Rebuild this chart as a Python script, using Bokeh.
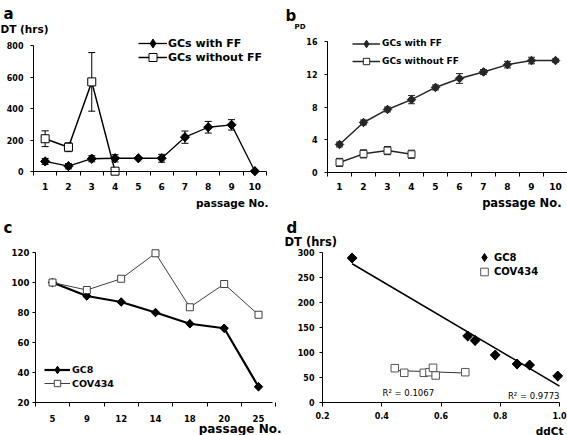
import numpy as np
from bokeh.plotting import figure
from bokeh.models import (ColumnDataSource, Whisker, TeeHead, Legend, LegendItem, Label,
                          FixedTicker, Range1d)
from bokeh.layouts import column, row
from bokeh.embed import file_html
from bokeh.resources import INLINE

FONT = "DejaVu Sans"

# ---------------- data ----------------
# panel a : doubling time (hrs)
passage_a = [1, 2, 3, 4, 5, 6, 7, 8, 9, 10]
dt_with_ff = [64, 34, 81, 84, 84, 84, 218, 281, 296, 2]
dt_with_ff_err = [19, 17, 19, 23, 6, 25, 39, 37, 33, 0]
passage_a_wo = [1, 2, 3, 4]
dt_without_ff = [208, 154, 569, 2]
dt_without_ff_err = [50, 28, 186, 0]
y_ticks_a = [0, 200, 400, 600, 800]

# panel b : population doublings
passage_b = [1, 2, 3, 4, 5, 6, 7, 8, 9, 10]
pd_with_ff = [3.4, 6.1, 7.7, 8.9, 10.4, 11.5, 12.3, 13.2, 13.7, 13.7]
pd_with_ff_err = [0.3, 0.3, 0.3, 0.5, 0.3, 0.6, 0.3, 0.4, 0.4, 0.2]
passage_b_wo = [1, 2, 3, 4]
pd_without_ff = [1.2, 2.25, 2.65, 2.2]
pd_without_ff_err = [0.5, 0.5, 0.5, 0.5]
y_ticks_b = [0, 4, 8, 12, 16]

# panel c : values vs passage number
passage_c = ["5", "9", "12", "14", "18", "20", "25"]
gc8_c = [100, 91, 87, 80, 72.5, 69.5, 30.5]
cov434_c = [100, 95, 102.5, 119.5, 83.5, 99, 78.5]
y_ticks_c = [20, 40, 60, 80, 100, 120]

# panel d : DT vs ddCt
gc8_ddct = [0.30, 0.69, 0.715, 0.783, 0.857, 0.899, 0.994]
gc8_dt = [289, 133, 124, 95, 77, 75, 53]
cov434_ddct = [0.444, 0.476, 0.542, 0.561, 0.573, 0.582, 0.682]
cov434_dt = [68.6, 59.4, 59.4, 60.6, 69.4, 54, 60.6]
x_ticks_d = [0.2, 0.4, 0.6, 0.8, 1.0]
y_ticks_d = [0, 50, 100, 150, 200, 250, 300]
r2_gc8 = "R\u00b2 = 0.9773"
r2_cov434 = "R\u00b2 = 0.1067"


# ---------------- helpers ----------------
def make_panel(w, h, xmap, ymap):
    """Frame fills the whole canvas; xmap/ymap = ((value, px), (value, px)) anchors."""
    (xv1, xp1), (xv2, xp2) = xmap
    kx = (xv2 - xv1) / (xp2 - xp1)
    (yv1, yp1), (yv2, yp2) = ymap
    ky = (yv2 - yv1) / (yp2 - yp1)
    p = figure(width=w, height=h,
               x_range=Range1d(xv1 - xp1 * kx, xv1 + (w - xp1) * kx),
               y_range=Range1d(yv1 + (h - yp1) * ky, yv1 - yp1 * ky),
               output_backend="svg", toolbar_location=None, min_border=0,
               background_fill_color="white", border_fill_color="white")
    p.xgrid.visible = False
    p.ygrid.visible = False
    p.outline_line_color = None
    for ax in (p.xaxis[0], p.yaxis[0]):
        ax.axis_line_color = "black"
        ax.axis_line_width = 1
        ax.major_tick_line_color = "black"
        ax.minor_tick_line_color = "black"
        ax.major_label_text_font = FONT
        ax.major_label_text_font_style = "bold"
        ax.major_label_text_color = "black"
        ax.major_tick_in = 0
        ax.minor_tick_in = 0
    return p


def y_axis(p, ticks, at, bounds, size, tick_out=3, standoff=6):
    ax = p.yaxis[0]
    ax.fixed_location = at
    ax.bounds = bounds
    ax.ticker = FixedTicker(ticks=ticks, minor_ticks=[])
    ax.major_tick_out = tick_out
    ax.minor_tick_out = 0
    ax.major_label_standoff = standoff
    ax.major_label_text_font_size = f"{size}px"


def cat_x_axis(p, ticks, at, bounds, size, overrides=None, standoff=8):
    ax = p.xaxis[0]
    ax.fixed_location = at
    ax.bounds = bounds
    ax.ticker = FixedTicker(ticks=ticks, minor_ticks=[ticks[0] - 0.5] + [t + 0.5 for t in ticks])
    ax.major_tick_out = 0
    ax.minor_tick_out = 4
    ax.major_label_standoff = standoff
    ax.major_label_text_font_size = f"{size}px"
    if overrides:
        ax.major_label_overrides = overrides


def add_text(p, h, text, fx, fy, size, align="left", bold=True):
    """fx, fy: panel pixels from top-left; fy is the text baseline."""
    p.add_layout(Label(x=fx, y=h - fy, x_units="screen", y_units="screen",
                       text=text, text_font=FONT, text_font_size=f"{size}px",
                       text_font_style="bold" if bold else "normal",
                       text_align=align, text_baseline="alphabetic", text_color="black"))


def whiskers(p, xs, ys, errs, color="black", head=7):
    src = ColumnDataSource(dict(x=xs, upper=[y + e for y, e in zip(ys, errs)],
                                lower=[y - e for y, e in zip(ys, errs)]))
    p.add_layout(Whisker(source=src, base="x", upper="upper", lower="lower", dimension="height",
                         line_color=color, line_width=1,
                         upper_head=TeeHead(size=head, line_color=color, line_width=1),
                         lower_head=TeeHead(size=head, line_color=color, line_width=1)))


def legend_entry(p, h, label, renderers, x, y_center, glyph_w, box, size, standoff):
    """One legend row; x = left of the glyph, y_center = row centre (panel px from top)."""
    p.add_layout(Legend(items=[LegendItem(label=label, renderers=renderers)],
                        location=(x, h - (y_center + box / 2)), orientation="vertical",
                        glyph_width=glyph_w, glyph_height=box, label_height=box,
                        label_width=10, label_standoff=standoff, spacing=0,
                        padding=0, margin=0, border_line_alpha=0, background_fill_alpha=0,
                        label_text_font=FONT, label_text_font_size=f"{size}px",
                        label_text_font_style="bold", label_text_color="black",
                        label_text_baseline="middle"))


def diamonds(p, xs, ys, size, color):
    """Diamond markers: a narrow 'diamond' (used as legend sample) under a rotated square."""
    leg = p.scatter(xs, ys, marker="diamond", size=size * 1.35, fill_color=color, line_color=color)
    p.scatter(xs, ys, marker="square", angle=np.pi / 4, size=size, fill_color=color,
              line_color=color)
    return leg


# ---------------- panel a ----------------
HA = 210
pa = make_panel(284, HA, ((0.5, 33), (10.5, 266)), ((0, 171), (800, 45)))
y_axis(pa, y_ticks_a, at=0.5, bounds=(0, 800), size=8, tick_out=3, standoff=7)
cat_x_axis(pa, passage_a, at=0, bounds=(0.5, 10.5), size=9, standoff=7)
whiskers(pa, passage_a_wo, dt_without_ff, dt_without_ff_err)
whiskers(pa, passage_a, dt_with_ff, dt_with_ff_err)
la1 = pa.line(passage_a, dt_with_ff, line_color="black", line_width=1.3)
sa1 = diamonds(pa, passage_a, dt_with_ff, 6.5, "black")
la2 = pa.line(passage_a_wo, dt_without_ff, line_color="black", line_width=1.5)
sa2 = pa.scatter(passage_a_wo, dt_without_ff, marker="square", size=8, fill_color="white",
                 line_color="black", line_width=1)
legend_entry(pa, HA, "GCs with FF", [la1, sa1], 138, 43, 29, 22, 11, 1)
legend_entry(pa, HA, "GCs without FF", [la2, sa2], 138, 57, 29, 20, 11, 1)
add_text(pa, HA, "a", 3, 13, 15)
add_text(pa, HA, "DT (hrs)", 0, 28, 10.5)
add_text(pa, HA, "passage No.", 268, 202, 10.5, align="right")

# ---------------- panel b ----------------
HB = 210
pb = make_panel(283, HB, ((1, 55), (10, 271)), ((0, 171.7), (16, 41.3)))
y_axis(pb, y_ticks_b, at=0.5, bounds=(0, 16), size=8, tick_out=3, standoff=7)
cat_x_axis(pb, passage_b, at=0, bounds=(0.5, 10.5), size=9, standoff=7)
DARK = "#262626"
whiskers(pb, passage_b_wo, pd_without_ff, pd_without_ff_err, color=DARK)
whiskers(pb, passage_b, pd_with_ff, pd_with_ff_err, color=DARK)
lb1 = pb.line(passage_b, pd_with_ff, line_color=DARK, line_width=1.5)
sb1 = diamonds(pb, passage_b, pd_with_ff, 6, DARK)
lb2 = pb.line(passage_b_wo, pd_without_ff, line_color=DARK, line_width=1.5)
sb2 = pb.scatter(passage_b_wo, pd_without_ff, marker="square", size=7, fill_color="white",
                 line_color=DARK, line_width=1)
legend_entry(pb, HB, "GCs with FF", [lb1, sb1], 68, 43, 28, 19, 9, 2)
legend_entry(pb, HB, "GCs without FF", [lb2, sb2], 68, 61, 28, 16, 9, 2)
add_text(pb, HB, "b", 1, 15, 15)
add_text(pb, HB, "PD", 10, 26, 7)
add_text(pb, HB, "passage No.", 277, 202, 11.5, align="right")

# ---------------- panel c ----------------
HC = 225
pos_c = list(range(1, len(passage_c) + 1))
pc = make_panel(284, HC, ((1, 52), (7, 258)), ((20, 192), (120, 42)))
y_axis(pc, y_ticks_c, at=0.5, bounds=(20, 120), size=8.5, tick_out=3, standoff=3)
cat_x_axis(pc, pos_c, at=20, bounds=(0.5, 7.4), size=8.5,
           overrides={i: s for i, s in zip(pos_c, passage_c)}, standoff=8)
lc1 = pc.line(pos_c, gc8_c, line_color="black", line_width=2.2)
sc1 = diamonds(pc, pos_c, gc8_c, 6, "black")
lc2 = pc.line(pos_c, cov434_c, line_color="#404040", line_width=1)
sc2 = pc.scatter(pos_c, cov434_c, marker="square", size=7, fill_color="white",
                 line_color="#404040", line_width=1)
legend_entry(pc, HC, "GC8", [lc1, sc1], 44, 159, 26, 19, 9.5, 2)
legend_entry(pc, HC, "COV434", [lc2, sc2], 44, 173, 26, 16, 9.5, 2)
add_text(pc, HC, "c", 3, 17, 15)
add_text(pc, HC, "passage No.", 281, 218, 12, align="right")

# ---------------- panel d ----------------
HD = 225
pd_ = make_panel(283, HD, ((0.2, 38), (1.0, 275)), ((0, 192), (300, 42)))
y_axis(pd_, y_ticks_d, at=0.2, bounds=(0, 300), size=8, tick_out=3, standoff=5)
axd = pd_.xaxis[0]
axd.fixed_location = 0
axd.bounds = (0.2, 1.0)
axd.ticker = FixedTicker(ticks=x_ticks_d, minor_ticks=[])
axd.major_tick_out = 4
axd.minor_tick_out = 0
axd.major_label_standoff = 5
axd.major_label_text_font_size = "8px"
axd.major_label_overrides = {t: f"{t:.1f}" for t in x_ticks_d}

k1, b1 = np.polyfit(gc8_ddct, gc8_dt, 1)
fx1 = [min(gc8_ddct), max(x_ticks_d)]
pd_.line(fx1, [k1 * x + b1 for x in fx1], line_color="black", line_width=1.6)
k2, b2 = np.polyfit(cov434_ddct, cov434_dt, 1)
fx2 = [min(cov434_ddct), max(cov434_ddct)]
pd_.line(fx2, [k2 * x + b2 for x in fx2], line_color="#333333", line_width=1)
sd1 = diamonds(pd_, gc8_ddct, gc8_dt, 7, "black")
sd2 = pd_.scatter(cov434_ddct, cov434_dt, marker="square", size=7.5, fill_color="white",
                  line_color="#555555", line_width=1)
legend_entry(pd_, HD, "GC8", [sd1], 190, 47, 20, 22, 10, -3)
legend_entry(pd_, HD, "COV434", [sd2], 190, 61, 20, 19, 10, -3)
add_text(pd_, HD, r2_cov434, 98, 182, 8.5, bold=False)
add_text(pd_, HD, r2_gc8, 275, 185, 8.5, align="right", bold=False)
add_text(pd_, HD, "d", 2, 17, 15)
add_text(pd_, HD, "DT (hrs)", 0, 31, 11.5)
add_text(pd_, HD, "ddCt", 279, 220, 10.5, align="right")

layout = column(row(pa, pb), row(pc, pd_))
open("out.html", "w").write(file_html(layout, INLINE))
